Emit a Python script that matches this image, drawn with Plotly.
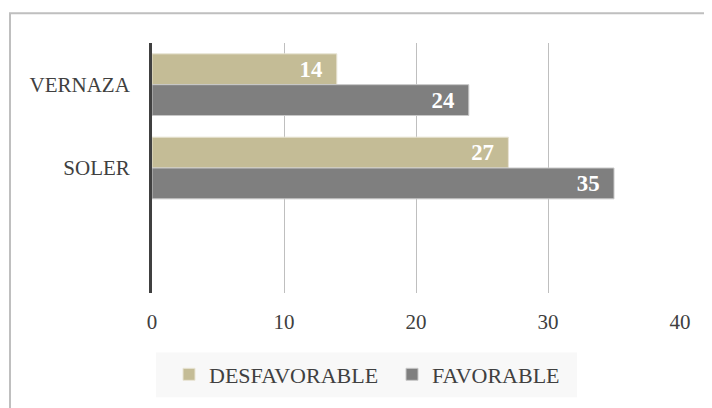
import plotly.graph_objects as go

categories = ["VERNAZA", "SOLER"]
desfavorable = [14, 27]
favorable = [24, 35]
x_ticks = [0, 10, 20, 30, 40]

FONT = "Liberation Serif"
OFF = 8  # page body margin
W, H = 712 - OFF, 408 - OFF
L, T = 152 - OFF, 43 - OFF
pw, ph = 528, 252
R, B = W - L - pw, H - T - ph

def px_x(x):
    return (x - OFF - L) / pw

def px_y(y):
    return (T + ph - (y - OFF)) / ph

PAD = "\u00a0\u00a0"
fig = go.Figure()
fig.add_trace(go.Bar(
    y=categories, x=desfavorable, name="DESFAVORABLE", orientation="h",
    marker=dict(color="#c4bc96", line=dict(color="#e8e4d4", width=1)),
    texttemplate="%{x}" + PAD, textposition="inside", insidetextanchor="end",
    textfont=dict(color="white", size=23, family=FONT, weight="bold"),
))
fig.add_trace(go.Bar(
    y=categories, x=favorable, name="FAVORABLE", orientation="h",
    marker=dict(color="#7f7f7f", line=dict(color="#c8c8c8", width=1)),
    texttemplate="%{x}" + PAD, textposition="inside", insidetextanchor="end",
    textfont=dict(color="white", size=23, family=FONT, weight="bold"),
))

fig.update_layout(
    width=W, height=H,
    margin=dict(l=L, r=R, t=T, b=B),
    paper_bgcolor="white", plot_bgcolor="white",
    barmode="group", bargap=0.26, bargroupgap=0.0,
    font=dict(family=FONT, size=21, color="#404040"),
    showlegend=True,
    legend=dict(orientation="h", x=px_x(169), y=px_y(356), xanchor="left", yanchor="top",
                bgcolor="rgba(0,0,0,0)", font=dict(size=22, color="#404040"),
                itemwidth=30, entrywidth=178, traceorder="normal"),
    xaxis=dict(range=[0, 40], tickvals=x_ticks, showgrid=True, gridcolor="#bfbfbf", gridwidth=1,
               zeroline=False, showline=False, ticks="", tickfont=dict(size=21), ticklabelstandoff=14),
    yaxis=dict(categoryorder="array", categoryarray=categories, range=[2.5, -0.5],
               showline=True, linecolor="#404040", linewidth=3, ticks="",
               tickfont=dict(size=21), ticklabelstandoff=15),
    shapes=[
        dict(type="rect", xref="paper", yref="paper",
             x0=px_x(10), x1=px_x(730), y0=px_y(430), y1=px_y(13),
             line=dict(color="#bfbfbf", width=2), fillcolor="rgba(0,0,0,0)", layer="below"),
        dict(type="rect", xref="paper", yref="paper",
             x0=px_x(156), x1=px_x(577), y0=px_y(400), y1=px_y(355),
             line=dict(width=0), fillcolor="#f8f8f8", layer="below"),
    ],
)
fig.write_html("out.html")
